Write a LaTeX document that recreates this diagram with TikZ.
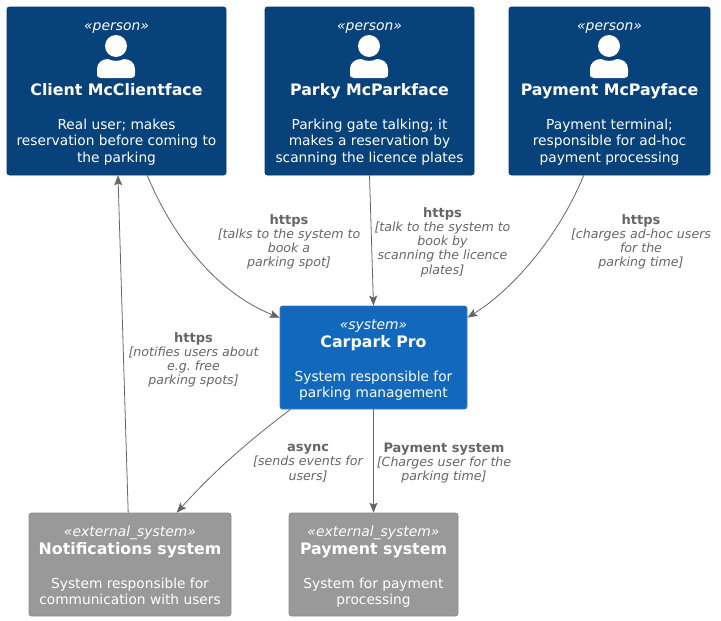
\documentclass[tikz,border=0pt]{standalone}
\usepackage{fontspec}
\setmainfont{DejaVu Sans}
\usetikzlibrary{arrows.meta}

\definecolor{personblue}{HTML}{08427B}
\definecolor{systemblue}{HTML}{1168BD}
\definecolor{externalgrey}{HTML}{999999}
\definecolor{linegrey}{HTML}{666666}

\newcommand{\stereo}[2][13.5pt]{\rule{0pt}{#1}{\fontsize{13.9}{14}\selectfont\itshape #2}}
\newcommand{\boxtitle}[1]{{\fontsize{15.8}{16.5}\selectfont\bfseries #1}}
\newcommand{\techname}[1]{{\fontsize{13}{14}\selectfont\upshape\bfseries #1}}

\tikzset{
    c4box/.style={rectangle, rounded corners=2.5, text=white, align=center,
        inner sep=0, line width=.7,
        font=\fontsize{13.75}{16.5}\selectfont},
    personbox/.style={c4box, fill=personblue, draw=personblue!90!black},
    systembox/.style={c4box, fill=systemblue, draw=systemblue!85!white},
    externalbox/.style={c4box, fill=externalgrey, draw=externalgrey!92!black},
    rel/.style={draw=linegrey, line width=.8, -{Stealth[length=10,width=8,inset=2]}},
    rellabel/.style={text=linegrey, align=center, inner sep=0,
        font=\fontsize{12.6}{14.2}\selectfont\itshape\frenchspacing},
    personicon/.pic={
        \fill[white] (0,0) circle (11);
        \fill[white] (-19,27) -- (-19,23) .. controls (-19,17) and (-14,13) .. (-8,13)
            .. controls (-3,15.5) and (3,15.5) .. (8,13)
            .. controls (14,13) and (19,17) .. (19,23) -- (19,27)
            .. controls (19,31) and (18,32) .. (15,32) -- (-15,32)
            .. controls (-18,32) and (-19,31) .. (-19,27) -- cycle;
    }
}

\begin{document}
\begin{tikzpicture}[x=1pt,y=-1pt]
    \useasboundingbox (0,0) rectangle (721,621);

    % people
    \node[personbox, minimum width=219, minimum height=168] (client) at (116.5,91)
        {\stereo{«person»}\\[48.5pt]\boxtitle{Client McClientface}\\[17.5pt]Real user; makes\\reservation before coming to\\the parking};
    \node[personbox, minimum width=209, minimum height=168] (parky) at (369.5,91)
        {\stereo{«person»}\\[48.5pt]\boxtitle{Parky McParkface}\\[17.5pt]Parking gate talking; it\\makes a reservation by\\scanning the licence plates};
    \node[personbox, minimum width=201, minimum height=168] (payface) at (609.5,91)
        {\stereo{«person»}\\[48.5pt]\boxtitle{Payment McPayface}\\[17.5pt]Payment terminal;\\responsible for ad-hoc\\payment processing};
    \pic at (116,46) {personicon};
    \pic at (369,46) {personicon};
    \pic at (609,46) {personicon};

    % systems
    \node[systembox, minimum width=187, minimum height=103] (carpark) at (373.5,357.5)
        {\stereo[15.5pt]{«system»}\\[1pt]\boxtitle{Carpark Pro}\\[17.5pt]System responsible for\\parking management};
    \node[externalbox, minimum width=202, minimum height=103] (notifications) at (130,564.5)
        {\stereo[15.5pt]{«external\_system»}\\[1pt]\boxtitle{Notifications system}\\[17.5pt]System responsible for\\\rule[-3.2pt]{0pt}{3.2pt}communication with users};
    \node[externalbox, minimum width=169, minimum height=103] (paysystem) at (373.5,564.5)
        {\stereo[15.5pt]{«external\_system»}\\[1pt]\boxtitle{Payment system}\\[17.5pt]System for payment\\processing};

    % relations
    \draw[rel] (client.-70) .. controls (175,242) and (220,294) .. (carpark.157.6);
    \draw[rel] (parky.south) -- (carpark.north);
    \draw[rel] (payface.-107.5) .. controls (558,238) and (512,290) .. (carpark.23.4);
    \draw[rel] (notifications.92.2) -- (client.-89);
    \draw[rel] (carpark.-148.3) .. controls (250,440) and (215,470) .. (notifications.48.9);
    \draw[rel] (carpark.south) -- (paysystem.north);

    \node[rellabel] (clientlabel) at (289,242)
        {\techname{https}\\{[}talks to the system to\\book a\\parking spot{]}};
    \node[rellabel] (parkylabel) at (442.5,242)
        {\techname{https}\\{[}talk to the system to\\book by\\scanning the licence\\plates{]}};
    \node[rellabel] (payfacelabel) at (641,242)
        {\techname{https}\\{[}charges ad-hoc users\\for the\\parking time{]}};
    \node[rellabel] (notifylabel) at (193.5,360)
        {\techname{https}\\{[}notifies users about\\e.g. free\\parking spots{]}};
    \node[rellabel] (asynclabel) at (308,463)
        {\techname{async}\\{[}sends events for\\users{]}};
    \node[rellabel] (paymentlabel) at (444,463)
        {\techname{Payment system}\\{[}Charges user for the\\parking time{]}};
\end{tikzpicture}
\end{document}
